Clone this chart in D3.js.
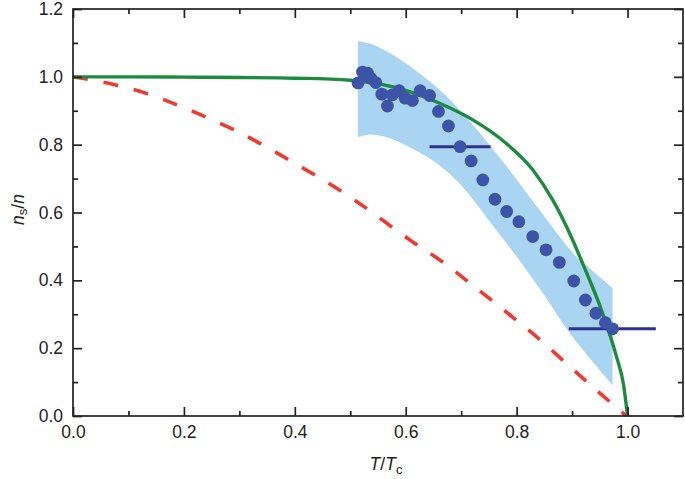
<!DOCTYPE html>
<html>
<head>
<meta charset="utf-8">
<script src="https://cdn.jsdelivr.net/npm/d3@7"></script>
<style>
  body { margin: 0; background: #fff; }
  svg text { font-family: "Liberation Sans", Arial, Helvetica, sans-serif; fill: #222; }
</style>
</head>
<body>
<svg id="chart" width="685" height="479"></svg>
<script>
// measured superfluid fraction
var dotT = [0.514, 0.522, 0.528, 0.531, 0.537, 0.546, 0.557, 0.567, 0.576, 0.588, 0.599, 0.612, 0.626, 0.643,
            0.659, 0.677, 0.698, 0.718, 0.739, 0.761, 0.782, 0.804, 0.829, 0.853, 0.877, 0.903, 0.924,
            0.943, 0.960, 0.973];
var dotN = [0.982, 1.014, 1.005, 1.011, 0.996, 0.983, 0.949, 0.914, 0.947, 0.959, 0.937, 0.930, 0.959, 0.945,
            0.898, 0.855, 0.794, 0.752, 0.696, 0.639, 0.603, 0.573, 0.529, 0.490, 0.453, 0.398, 0.342,
            0.303, 0.275, 0.257];

// horizontal error bars
var errT = [0.698, 0.9725];
var errN = [0.794, 0.257];
var errDx = [0.055, 0.0785];

// shaded uncertainty band
var bandUpperT = [0.514, 0.514, 0.535, 0.56, 0.60, 0.661, 0.72, 0.78, 0.84, 0.87, 0.91, 0.925, 0.973, 0.973];
var bandUpperN = [0.822, 1.106, 1.098, 1.08, 1.04, 0.962, 0.86, 0.74, 0.61, 0.545, 0.465, 0.445, 0.377, 0.091];
var bandLowerT = [0.973, 0.90, 0.85, 0.80, 0.76, 0.73, 0.70, 0.66, 0.61, 0.57, 0.535, 0.514];
var bandLowerN = [0.091, 0.235, 0.355, 0.47, 0.555, 0.62, 0.68, 0.74, 0.79, 0.82, 0.83, 0.822];

// green solid curve
var greenT = [0, 0.1, 0.2, 0.3, 0.4, 0.5, 0.6, 0.661, 0.721, 0.781, 0.829, 0.865, 0.901, 0.919, 0.955,
              0.980, 0.993, 1.0];
var greenN = [1.0, 1.0, 0.999, 0.998, 0.996, 0.99, 0.96, 0.922, 0.873, 0.804, 0.726, 0.637, 0.519, 0.45,
              0.303, 0.175, 0.09, 0.0];

// red dashed curve
var redT = [0, 0.077, 0.131, 0.185, 0.240, 0.294, 0.348, 0.402, 0.456, 0.510, 0.612, 0.670, 0.724,
            0.778, 0.832, 0.883, 0.937, 0.998];
var redN = [1.0, 0.976, 0.952, 0.919, 0.881, 0.841, 0.794, 0.743, 0.691, 0.634, 0.514, 0.450, 0.381,
            0.311, 0.239, 0.165, 0.086, 0.0];

var xMajor = [0, 0.2, 0.4, 0.6, 0.8, 1.0];
var xMinor = [0.1, 0.3, 0.5, 0.7, 0.9];
var yMajor = [0, 0.2, 0.4, 0.6, 0.8, 1.0, 1.2];
var yMinor = [0.1, 0.3, 0.5, 0.7, 0.9, 1.1];

var svg = d3.select('#chart');
var plotLeft = 73, plotRight = 683, plotTop = 9, plotBottom = 416;

var x = d3.scaleLinear().domain([0, 1.1]).range([plotLeft, plotRight]);
var y = d3.scaleLinear().domain([0, 1.2]).range([plotBottom, plotTop]);

var zip = (a, b) => a.map((v, i) => [v, b[i]]);

// band
var straight = d3.line().x(d => x(d[0])).y(d => y(d[1]));
var edge = d3.line().x(d => x(d[0])).y(d => y(d[1])).curve(d3.curveCatmullRom.alpha(0.5));
var upperPts = zip(bandUpperT, bandUpperN);
var lowerPts = zip(bandLowerT, bandLowerN);
var bandPath = straight(upperPts.slice(0, 2)) +
    edge(upperPts.slice(1, 12)).replace(/^M/, 'L') +
    straight(upperPts.slice(11)).replace(/^M/, 'L') +
    edge(lowerPts).replace(/^M/, 'L') + 'Z';
svg.append('path')
    .attr('d', bandPath)
    .attr('fill', '#a9d5f2');

var curve = d3.line().x(d => x(d[0])).y(d => y(d[1])).curve(d3.curveMonotoneX);

svg.append('path')
    .attr('d', curve(zip(redT, redN)))
    .attr('fill', 'none')
    .attr('stroke', '#ee3a2f')
    .attr('stroke-width', 3.6)
    .attr('stroke-dasharray', '15 16');

svg.append('path')
    .attr('d', curve(zip(greenT, greenN)))
    .attr('fill', 'none')
    .attr('stroke', '#1d8b3e')
    .attr('stroke-width', 3.4);

// error bars
svg.selectAll('line.err')
    .data(errT)
    .enter().append('line')
        .attr('class', 'err')
        .attr('x1', (d, i) => x(d - errDx[i]))
        .attr('x2', (d, i) => x(d + errDx[i]))
        .attr('y1', (d, i) => y(errN[i]))
        .attr('y2', (d, i) => y(errN[i]))
        .attr('stroke', '#2d2f91')
        .attr('stroke-width', 3);

svg.selectAll('circle.dot')
    .data(dotT)
    .enter().append('circle')
        .attr('class', 'dot')
        .attr('cx', d => x(d))
        .attr('cy', (d, i) => y(dotN[i]))
        .attr('r', 6.4)
        .attr('fill', '#3b54a8');

// frame and ticks
svg.append('rect')
    .attr('x', plotLeft).attr('y', plotTop)
    .attr('width', plotRight - plotLeft).attr('height', plotBottom - plotTop)
    .attr('fill', 'none')
    .attr('stroke', '#222')
    .attr('stroke-width', 1.7);

function ticks(axis, scale, tr, values, size, labels) {
    var g = svg.append('g')
        .attr('transform', tr)
        .call(axis(scale)
            .tickValues(values)
            .tickSizeInner(-size)
            .tickSizeOuter(0)
            .tickPadding(10)
            .tickFormat(d3.format('.1f')));
    g.select('.domain').remove();
    g.selectAll('line').attr('stroke', '#222').attr('stroke-width', 1.7);
    if (labels) {
        g.selectAll('text').style('font-size', '17.5px').attr('fill', '#222');
    } else {
        g.selectAll('text').remove();
    }
    return g;
}

ticks(d3.axisBottom, x, `translate(0,${plotBottom})`, xMajor, 9, true);
ticks(d3.axisBottom, x, `translate(0,${plotBottom})`, xMinor, 5, false);
ticks(d3.axisTop, x, `translate(0,${plotTop})`, xMajor, 9, false);
ticks(d3.axisTop, x, `translate(0,${plotTop})`, xMinor, 5, false);
ticks(d3.axisLeft, y, `translate(${plotLeft},0)`, yMajor, 9, true);
ticks(d3.axisLeft, y, `translate(${plotLeft},0)`, yMinor, 5, false);
ticks(d3.axisRight, y, `translate(${plotRight},0)`, yMajor, 9, false);
ticks(d3.axisRight, y, `translate(${plotRight},0)`, yMinor, 5, false);

// axis titles
var xt = svg.append('text')
    .attr('x', (plotLeft + plotRight) / 2 + 8)
    .attr('y', 470)
    .attr('text-anchor', 'middle')
    .style('font-size', '17.5px');
xt.append('tspan').style('font-style', 'italic').text('T');
xt.append('tspan').text('/');
xt.append('tspan').style('font-style', 'italic').text('T');
xt.append('tspan').attr('dy', 4).style('font-size', '13px').text('c');

var yt = svg.append('text')
    .attr('transform', `translate(24,${(plotTop + plotBottom) / 2 - 3}) rotate(-90)`)
    .attr('text-anchor', 'middle')
    .style('font-size', '17.5px');
yt.append('tspan').style('font-style', 'italic').text('n');
yt.append('tspan').attr('dy', 3).style('font-size', '13px').text('s');
yt.append('tspan').attr('dy', -3).text('/');
yt.append('tspan').style('font-style', 'italic').text('n');
</script>
</body>
</html>
